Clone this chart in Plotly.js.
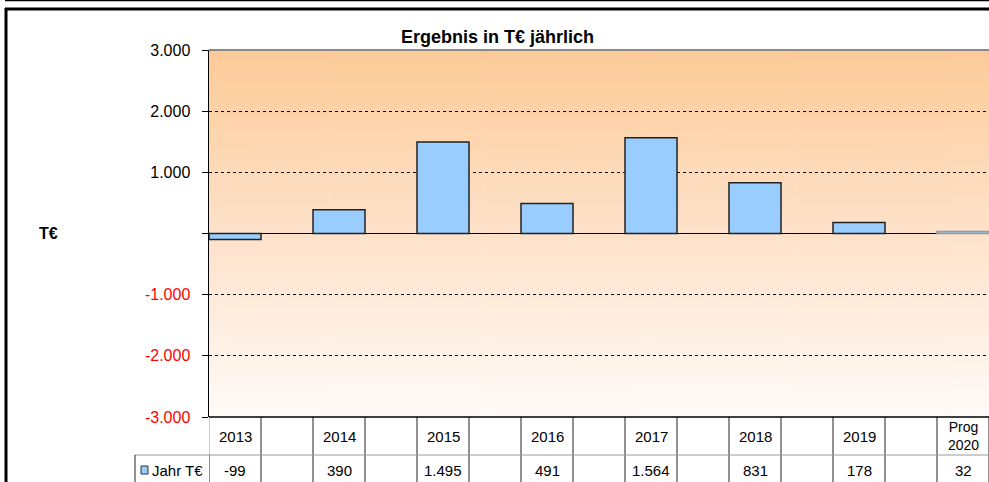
<!DOCTYPE html>
<html>
<head>
<meta charset="utf-8">
<script src="https://cdn.plot.ly/plotly-3.0.1.min.js"></script>
<style>html,body{margin:0;padding:0;background:#fff;}#chart{width:989px;height:482px;}</style>
</head>
<body>
<div id="chart"></div>
<script>
// ---- data ----
const years = ["2013", "2014", "2015", "2016", "2017", "2018", "2019", "Prog 2020"];
const values = [-99, 390, 1495, 491, 1564, 831, 178, 32];
const seriesName = "Jahr T€";
const chartTitle = "Ergebnis in T€ jährlich";
const yAxisLabel = "T€";
const yTicks = [-3000, -2000, -1000, 0, 1000, 2000, 3000];
const yTickLabels = ["-3.000", "-2.000", "-1.000", "", "1.000", "2.000", "3.000"];

// ---- layout helpers ----
const W = 989, H = 482;
const L = 209, R = 989, T = 50, B = 417;
const px = x => (x - L) / (R - L);
const py = y => (B - y) / (B - T);
const nCols = years.length * 2 - 1;          // a blank column between years
const xPos = years.map((_, i) => i * 2);

function fmt(v) {
  const s = Math.abs(v).toString().replace(/\B(?=(\d{3})+(?!\d))/g, ".");
  return (v < 0 ? "-" : "") + s;
}

// gradient background image
const cv = document.createElement("canvas");
cv.width = 10; cv.height = 400;
const ctx = cv.getContext("2d");
const g = ctx.createLinearGradient(0, 0, 0, 400);
g.addColorStop(0, "#FDCB98");
g.addColorStop(0.5, "#FEE2CA");
g.addColorStop(1, "#FFFBF8");
ctx.fillStyle = g; ctx.fillRect(0, 0, 10, 400);
const bgURL = cv.toDataURL("image/png");

const font = "Liberation Sans, Arial, sans-serif";

const trace = {
  type: "bar",
  x: xPos,
  y: values,
  name: seriesName,
  width: 1,
  marker: {
    color: "#99CCFF",
    line: { color: values.map((_, i) => i === values.length - 1 ? "#999999" : "#222222"), width: 1.5 }
  },
  hoverinfo: "skip"
};

const shapes = [];
const annotations = [];

// outer frame
shapes.push({ type: "line", xref: "paper", yref: "paper", x0: px(5), x1: px(989), y0: py(0.5), y1: py(0.5), line: { color: "#000", width: 1.5 } });
shapes.push({ type: "line", xref: "paper", yref: "paper", x0: px(5), x1: px(989), y0: py(9), y1: py(9), line: { color: "#000", width: 3 } });
shapes.push({ type: "line", xref: "paper", yref: "paper", x0: px(6), x1: px(6), y0: py(8), y1: py(482), line: { color: "#000", width: 3 } });

// plot top border
shapes.push({ type: "line", xref: "paper", yref: "paper", x0: 0, x1: 1, y0: 1, y1: 1, line: { color: "#888888", width: 2 } });

// table lines
for (let k = 0; k <= nCols; k++) {
  const xb = k - 0.5;
  shapes.push({ type: "line", xref: "x", yref: "paper", x0: xb, x1: xb, y0: py(417), y1: py(455), line: { color: k === 0 ? "#999999" : "#222222", width: 1 } });
  shapes.push({ type: "line", xref: "x", yref: "paper", x0: xb, x1: xb, y0: py(455), y1: py(483), line: { color: "#222222", width: 1 } });
}
shapes.push({ type: "line", xref: "paper", yref: "paper", x0: px(135), x1: 1, y0: py(455), y1: py(455), line: { color: "#999999", width: 1.2 } });
shapes.push({ type: "line", xref: "paper", yref: "paper", x0: px(135), x1: px(135), y0: py(455), y1: py(483), line: { color: "#222222", width: 1 } });
shapes.push({ type: "line", xref: "paper", yref: "paper", x0: 0, x1: 1, y0: 0, y1: 0, line: { color: "#000", width: 1.5 } });

// legend key
shapes.push({ type: "rect", xref: "paper", yref: "paper", x0: px(141), x1: px(148), y0: py(474), y1: py(466), fillcolor: "#99CCFF", line: { color: "#333", width: 1 } });
annotations.push({ xref: "paper", yref: "paper", x: px(150), y: py(470), xanchor: "left", yanchor: "middle", text: seriesName, showarrow: false, font: { family: font, size: 15, color: "#000" } });

// table text
years.forEach((yr, i) => {
  const multi = yr.indexOf(" ") >= 0;
  annotations.push({ xref: "x", yref: "paper", x: xPos[i], y: py(436), xanchor: "center", yanchor: "middle",
    text: yr.split(" ").join("<br>"), showarrow: false,
    font: { family: font, size: multi ? 14 : 15, color: "#000" } });
  annotations.push({ xref: "x", yref: "paper", x: xPos[i], y: py(470), xanchor: "center", yanchor: "middle", text: fmt(values[i]), showarrow: false, font: { family: font, size: 15, color: "#000" } });
});

// title and y label
annotations.push({ xref: "paper", yref: "paper", x: px(497), y: py(37), xanchor: "center", yanchor: "middle", text: "<b>" + chartTitle + "</b>", showarrow: false, font: { family: font, size: 18, color: "#000" } });
annotations.push({ xref: "paper", yref: "paper", x: px(48), y: py(233), xanchor: "center", yanchor: "middle", text: "<b>" + yAxisLabel + "</b>", showarrow: false, font: { family: font, size: 16, color: "#000" } });

const tickText = yTickLabels.map((t, i) => yTicks[i] < 0 ? '<span style="color:#FF0000">' + t + '</span>' : t);

const layout = {
  width: W, height: H,
  margin: { l: L, r: W - R, t: T, b: H - B, pad: 0 },
  paper_bgcolor: "#ffffff",
  plot_bgcolor: "rgba(0,0,0,0)",
  showlegend: false,
  bargap: 0,
  xaxis: {
    type: "linear", range: [-0.5, nCols - 0.5], showticklabels: false, showgrid: false,
    zeroline: false, showline: false, ticks: "", fixedrange: true
  },
  yaxis: {
    range: [-3000, 3000], tickvals: yTicks, ticktext: tickText,
    tickfont: { family: font, size: 16, color: "#000" },
    ticks: "outside", ticklen: 6, tickcolor: "#000", tickwidth: 1,
    ticklabelstandoff: 8,
    showline: true, linecolor: "#000", linewidth: 1.5,
    showgrid: true, gridcolor: "#000", gridwidth: 1, griddash: "dot",
    zeroline: true, zerolinecolor: "#000", zerolinewidth: 1.5,
    fixedrange: true
  },
  images: [{ source: bgURL, xref: "paper", yref: "paper", x: 0, y: 1, sizex: 1, sizey: 1, sizing: "stretch", layer: "below", xanchor: "left", yanchor: "top" }],
  shapes: shapes,
  annotations: annotations
};

Plotly.newPlot("chart", [trace], layout, { displayModeBar: false, staticPlot: true });
</script>
</body>
</html>
